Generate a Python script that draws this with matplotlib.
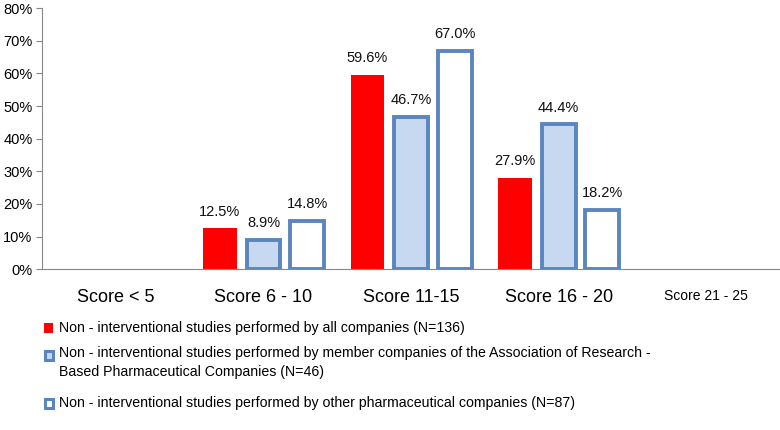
import numpy as np
import matplotlib.pyplot as plt
from matplotlib.patches import Rectangle

categories = ["Score < 5", "Score 6 - 10", "Score 11-15", "Score 16 - 20", "Score 21 - 25"]
all_companies = [0, 12.5, 59.6, 27.9, 0]
member_companies = [0, 8.9, 46.7, 44.4, 0]
other_companies = [0, 14.8, 67.0, 18.2, 0]
series_labels = [
    "Non - interventional studies performed by all companies (N=136)",
    "Non - interventional studies performed by member companies of the Association of Research -\nBased Pharmaceutical Companies (N=46)",
    "Non - interventional studies performed by other pharmaceutical companies (N=87)",
]

plt.rcParams['font.family'] = ['Liberation Sans', 'DejaVu Sans']
red = "#FF0000"
blue_edge = "#5A86BF"
light_fill = "#C6D9F1"

fig = plt.figure(figsize=(7.8, 4.3), dpi=100)
ax = fig.add_axes([0.054, 0.374, 0.946, 0.607])

x = np.arange(len(categories))
w = 0.23
step = 0.295
series = [all_companies, member_companies, other_companies]
styles = [
    dict(color=red, edgecolor=red, linewidth=0),
    dict(color=light_fill, edgecolor=blue_edge, linewidth=2.8),
    dict(color="white", edgecolor=blue_edge, linewidth=2.8),
]
for i, (vals, st) in enumerate(zip(series, styles)):
    xs = x + (i - 1) * step
    for xi, v in zip(xs, vals):
        if v <= 0:
            continue
        ax.bar(xi, v, width=w, **st)
        ax.annotate(f"{v:.1f}%", (xi, v), xytext=(0, 7), textcoords="offset points",
                    ha="center", va="bottom", fontsize=10.5, color="#111111")

ax.set_xlim(-0.5, 4.5)
ax.set_ylim(0, 80)
ax.set_yticks(range(0, 81, 10))
ax.set_yticklabels([f"{t}%" for t in range(0, 81, 10)], fontsize=10.5)
ax.set_xticks(x)
ax.set_xticklabels(categories, fontsize=13)
ax.get_xticklabels()[-1].set_fontsize(10)
ax.tick_params(axis="x", length=0, pad=14)
ax.tick_params(axis="y", length=4, color="#888888", direction="out", pad=3)
for s in ["top", "right"]:
    ax.spines[s].set_visible(False)
ax.spines["left"].set_color("#888888")
ax.spines["bottom"].set_color("#888888")

# legend drawn by hand, below the axes
leg_y = [328, 363, 403]
for k, (lab, st) in enumerate(zip(series_labels, styles)):
    yc = 1 - leg_y[k] / 430
    first_line_y = 1 - (355 if k == 1 else leg_y[k]) / 430
    if k == 0:
        r = Rectangle((44 / 780, first_line_y - 5 / 430), 9 / 780, 10 / 430,
                      transform=fig.transFigure, facecolor=red, edgecolor="none")
    else:
        r = Rectangle((45 / 780, first_line_y - 4.5 / 430), 8 / 780, 9 / 430,
                      transform=fig.transFigure, facecolor=st["color"],
                      edgecolor=blue_edge, linewidth=2.2)
    fig.patches.append(r)
    fig.text(59 / 780, first_line_y + 9 / 430 if k == 1 else yc, lab,
             va="top" if k == 1 else "center", ha="left", fontsize=10.2,
             linespacing=1.45)

fig.savefig("out.png", dpi=100)
